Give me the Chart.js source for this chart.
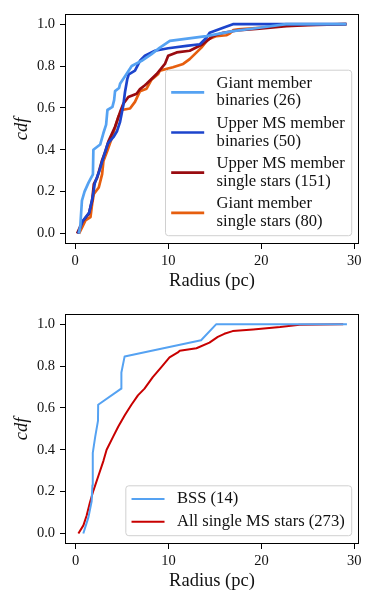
<!DOCTYPE html>
<html><head><meta charset="utf-8">
<script src="https://cdn.jsdelivr.net/npm/chart.js@4"></script>
<style>
html,body{margin:0;padding:0;background:#fff;}
#w{position:relative;width:374px;height:605px;background:#fff;}
.c{position:absolute;left:0;width:374px;height:300px;}
</style></head><body>
<div id="w">
<div class="c" style="top:0"><canvas id="c1" width="374" height="300"></canvas></div>
<div class="c" style="top:300px"><canvas id="c2" width="374" height="300"></canvas></div>
</div>
<script>
// ---------- DATA ----------
const xTicks = [0, 10, 20, 30];
const yTicks = [0, 0.2, 0.4, 0.6, 0.8, 1.0];
const xTitle = 'Radius (pc)';
const yTitle = 'cdf';

// Top panel
const giantBinR   = [0.4, 0.55, 0.72, 1.0, 1.43, 1.9, 1.95, 2.68, 3.03, 3.32, 3.46, 4.0, 4.18, 4.28, 4.71, 4.82, 5.53, 6.07, 7.14, 8.2, 9.1, 10.17, 14.1, 16.95, 19.8, 22.66, 29.15];
const giantBinCdf = [0.0, 0.04, 0.157, 0.2, 0.243, 0.283, 0.40, 0.425, 0.48, 0.52, 0.59, 0.605, 0.637, 0.68, 0.695, 0.715, 0.763, 0.80, 0.825, 0.857, 0.888, 0.92, 0.943, 0.967, 0.983, 1.0, 1.0];

const msBinR   = [0.3, 0.8, 1.5, 1.9, 2.1, 2.6, 3.0, 3.5, 4.1, 4.5, 4.82, 5.17, 5.35, 5.6, 5.75, 6.42, 6.96, 7.49, 8.57, 9.99, 11.96, 13.4, 14.1, 14.45, 15.9, 16.95, 29.15];
const msBinCdf = [0.0, 0.06, 0.1, 0.18, 0.24, 0.3, 0.36, 0.43, 0.46, 0.49, 0.534, 0.613, 0.676, 0.739, 0.76, 0.778, 0.825, 0.849, 0.873, 0.885, 0.896, 0.904, 0.935, 0.959, 0.983, 1.0, 1.0];

const msSingleR   = [0.2, 0.75, 1.46, 1.82, 2.0, 2.36, 2.86, 3.25, 3.57, 4.28, 4.82, 5.17, 5.71, 6.6, 6.96, 7.49, 7.67, 8.75, 9.64, 9.99, 10.9, 12.3, 13.7, 14.8, 15.9, 17.7, 19.8, 22.7, 25.0, 29.15];
const msSingleCdf = [0.0, 0.055, 0.094, 0.157, 0.236, 0.267, 0.346, 0.393, 0.44, 0.51, 0.58, 0.62, 0.652, 0.668, 0.69, 0.708, 0.715, 0.762, 0.81, 0.849, 0.865, 0.873, 0.904, 0.943, 0.959, 0.972, 0.978, 0.99, 0.995, 1.0];

const giantSingleR   = [0.4, 0.75, 1.1, 1.64, 1.82, 2.0, 2.53, 2.89, 3.03, 3.43, 3.93, 4.64, 5.0, 5.89, 6.42, 6.96, 7.67, 8.2, 8.92, 9.1, 10.5, 11.6, 12.3, 12.85, 13.56, 14.27, 15.17, 16.24, 16.6, 17.0, 17.5, 19.8, 22.7, 29.15];
const giantSingleCdf = [0.0, 0.031, 0.063, 0.078, 0.143, 0.189, 0.22, 0.284, 0.346, 0.393, 0.456, 0.558, 0.59, 0.597, 0.629, 0.68, 0.692, 0.735, 0.762, 0.778, 0.794, 0.81, 0.833, 0.857, 0.888, 0.927, 0.943, 0.947, 0.955, 0.972, 0.975, 0.983, 0.995, 1.0];

const topLabels = [
  ['Giant member', 'binaries (26)'],
  ['Upper MS member', 'binaries (50)'],
  ['Upper MS member', 'single stars (151)'],
  ['Giant member', 'single stars (80)']
];

// Bottom panel
const bssR   = [0.82, 1.37, 1.72, 1.8, 1.83, 1.85, 2.1, 2.4, 2.42, 4.9, 4.92, 5.27, 13.5, 15.14, 29.2];
const bssCdf = [0.0, 0.077, 0.154, 0.231, 0.308, 0.385, 0.462, 0.538, 0.615, 0.692, 0.769, 0.846, 0.923, 1.0, 1.0];

const allMsR   = [0.29, 0.83, 1.18, 1.54, 1.9, 2.44, 2.98, 3.33, 4.05, 4.59, 5.3, 6.0, 6.7, 7.41, 8.3, 9.2, 10.1, 11.0, 11.2, 13.0, 14.4, 15.3, 16.0, 16.9, 19.1, 22.0, 24.1, 28.8];
const allMsCdf = [0.0, 0.039, 0.086, 0.149, 0.204, 0.275, 0.346, 0.40, 0.464, 0.511, 0.566, 0.615, 0.66, 0.692, 0.747, 0.794, 0.841, 0.865, 0.873, 0.885, 0.912, 0.939, 0.954, 0.967, 0.975, 0.986, 0.997, 1.0];

const bottomLabels = [
  ['BSS (14)'],
  ['All single MS stars (273)']
];

// ---------- STYLE ----------
const SERIF = '"Liberation Serif", "Times New Roman", serif';
const topColors = ['#55a2f2', '#1c44cc', '#990b10', '#e65e0e'];
const bottomColors = ['#55a2f2', '#c80000'];

function pts(xs, ys) { return xs.map((x, i) => ({x: x, y: ys[i]})); }

const frameAndLegend = {
  id: 'frameAndLegend',
  afterDraw(chart) {
    const ctx = chart.ctx, a = chart.chartArea;
    ctx.save();
    ctx.strokeStyle = '#000';
    ctx.lineWidth = 1;
    ctx.strokeRect(Math.round(a.left) + 0.5, Math.round(a.top) + 0.5,
                   Math.round(a.right - a.left) - 1, Math.round(a.bottom - a.top) - 1);
    // legend
    const L = chart.options.plugins.frameAndLegend;
    ctx.font = '16.6px ' + SERIF;
    let tw = 0;
    L.labels.forEach(lines => lines.forEach(t => { tw = Math.max(tw, ctx.measureText(t).width); }));
    const padX = 5.7, hLen = 33, hGap = 12.4, padR = 7, padT = 13.3, padB = 14, lineH = 17.6, entryGap = 22.6;
    let h = padT + padB;
    L.labels.forEach((lines, i) => { h += (lines.length - 1) * lineH + (i > 0 ? entryGap : 0); });
    const w = padX + hLen + hGap + tw + padR;
    const right = a.right - 7.3, bottom = a.bottom - 8.3;
    const left = right - w, top = bottom - h;
    const r = 3;
    ctx.beginPath();
    ctx.moveTo(left + r, top);
    ctx.lineTo(right - r, top); ctx.quadraticCurveTo(right, top, right, top + r);
    ctx.lineTo(right, bottom - r); ctx.quadraticCurveTo(right, bottom, right - r, bottom);
    ctx.lineTo(left + r, bottom); ctx.quadraticCurveTo(left, bottom, left, bottom - r);
    ctx.lineTo(left, top + r); ctx.quadraticCurveTo(left, top, left + r, top);
    ctx.closePath();
    ctx.fillStyle = 'rgba(255,255,255,0.8)';
    ctx.fill();
    ctx.strokeStyle = '#d0d0d0';
    ctx.lineWidth = 1;
    ctx.stroke();
    let y = top + padT;
    ctx.textBaseline = 'middle';
    ctx.textAlign = 'left';
    L.labels.forEach((lines, i) => {
      if (i > 0) y += entryGap;
      const yc = y + (lines.length - 1) * lineH / 2;
      const ds = chart.data.datasets[i];
      ctx.strokeStyle = ds.borderColor;
      ctx.lineWidth = ds.borderWidth;
      ctx.lineCap = 'butt';
      ctx.beginPath();
      ctx.moveTo(left + padX, yc);
      ctx.lineTo(left + padX + hLen, yc);
      ctx.stroke();
      ctx.fillStyle = '#111';
      lines.forEach((t, k) => {
        ctx.fillText(t, left + padX + hLen + hGap, y + k * lineH);
      });
      y += (lines.length - 1) * lineH;
    });
    ctx.restore();
  }
};

function makeChart(id, datasets, labels, xMin, xMax) {
  return new Chart(document.getElementById(id), {
    type: 'line',
    data: { datasets: datasets },
    plugins: [frameAndLegend],
    options: {
      responsive: false,
      animation: false,
      devicePixelRatio: 1,
      layout: { padding: { top: 11, right: 15, left: 0, bottom: 0 } },
      plugins: {
        legend: { display: false },
        tooltip: { enabled: false },
        frameAndLegend: { labels: labels }
      },
      elements: { point: { radius: 0 }, line: { tension: 0, borderJoinStyle: 'round', borderCapStyle: 'butt' } },
      scales: {
        x: {
          type: 'linear', min: xMin, max: xMax,
          afterBuildTicks: s => { s.ticks = xTicks.map(v => ({value: v})); },
          afterFit: s => { s.height = 56; },
          ticks: { color: '#111', font: { family: SERIF, size: 14.5 }, padding: 3, maxRotation: 0, autoSkip: false,
                   callback: v => String(v) },
          grid: { drawOnChartArea: false, drawTicks: true, tickLength: 5, color: '#000', tickColor: '#000', tickWidth: 1 },
          border: { display: false },
          title: { display: true, text: xTitle, color: '#111', font: { family: SERIF, size: 18.5 }, padding: { top: 0, bottom: 8 } }
        },
        y: {
          type: 'linear', min: -0.05, max: 1.05,
          afterBuildTicks: s => { s.ticks = yTicks.map(v => ({value: v})); },
          afterFit: s => { s.width = 65; },
          ticks: { color: '#111', font: { family: SERIF, size: 14.5 }, padding: 5, autoSkip: false,
                   callback: v => Number(v).toFixed(1) },
          grid: { drawOnChartArea: false, drawTicks: true, tickLength: 5, color: '#000', tickColor: '#000', tickWidth: 1 },
          border: { display: false },
          title: { display: true, text: yTitle, color: '#111', font: { family: SERIF, size: 18.5, style: 'italic' }, padding: { top: 11, bottom: 0 } }
        }
      }
    }
  });
}

const topSeries = [[giantBinR, giantBinCdf], [msBinR, msBinCdf], [msSingleR, msSingleCdf], [giantSingleR, giantSingleCdf]];
makeChart('c1', topSeries.map((s, i) => ({
  label: topLabels[i].join(' '),
  data: pts(s[0], s[1]),
  borderColor: topColors[i], backgroundColor: topColors[i],
  borderWidth: 2.7, fill: false
})), topLabels, -1.1, 30.5);

const bottomSeries = [[bssR, bssCdf], [allMsR, allMsCdf]];
makeChart('c2', bottomSeries.map((s, i) => ({
  label: bottomLabels[i].join(' '),
  data: pts(s[0], s[1]),
  borderColor: bottomColors[i], backgroundColor: bottomColors[i],
  borderWidth: 2, fill: false
})), bottomLabels, -1.15, 30.5);
</script>
</body></html>
